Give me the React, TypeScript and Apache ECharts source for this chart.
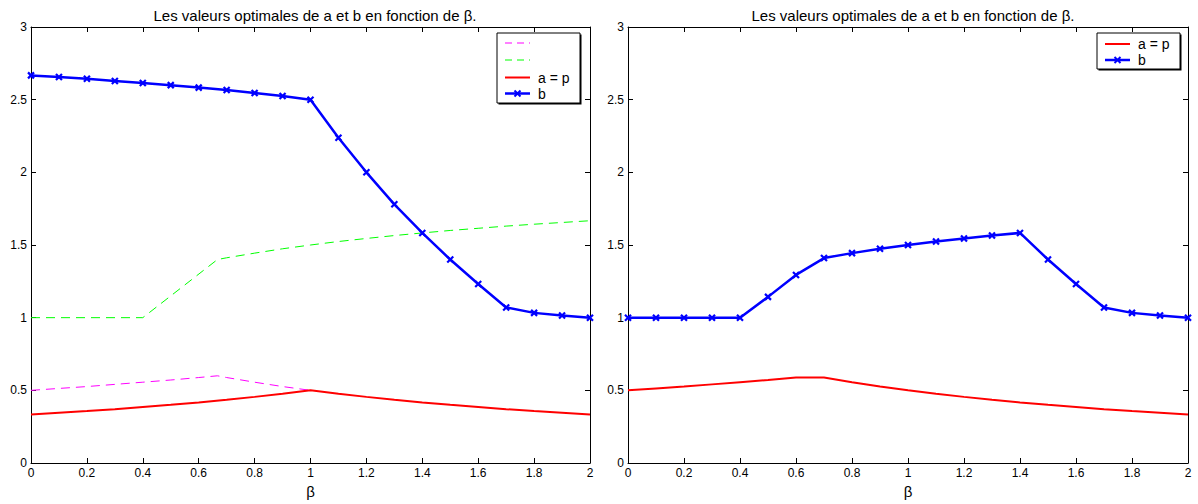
import React, { useEffect, useRef } from "react";
import * as echarts from "echarts";

const betas = [0, 0.1, 0.2, 0.3, 0.4, 0.5, 0.6, 0.7, 0.8, 0.9, 1, 1.1, 1.2, 1.3, 1.4, 1.5, 1.6, 1.7, 1.8, 1.9, 2];

// Left plot
const leftA = [0.333, 0.345, 0.357, 0.37, 0.385, 0.4, 0.417, 0.435, 0.455, 0.476, 0.5, 0.476, 0.455, 0.435, 0.417, 0.4, 0.385, 0.37, 0.357, 0.345, 0.333];
const leftB = [2.667, 2.656, 2.644, 2.629, 2.615, 2.6, 2.583, 2.566, 2.546, 2.525, 2.5, 2.238, 2.0, 1.78, 1.583, 1.4, 1.232, 1.07, 1.033, 1.015, 1.0];
const magentaX = [0, 0.1, 0.2, 0.3, 0.4, 0.5, 0.6, 0.667, 0.7, 0.8, 0.9, 1];
const magentaY = [0.5, 0.513, 0.526, 0.541, 0.556, 0.571, 0.588, 0.6, 0.588, 0.556, 0.526, 0.5];
const greenX = [0, 0.4, 0.667, 0.7, 0.8, 0.9, 1, 1.1, 1.2, 1.3, 1.4, 1.5, 1.6, 1.7, 1.8, 1.9, 2];
const greenY = [1, 1, 1.4, 1.412, 1.444, 1.474, 1.5, 1.524, 1.545, 1.565, 1.583, 1.6, 1.615, 1.63, 1.643, 1.655, 1.667];

// Right plot
const rightA = [0.5, 0.513, 0.526, 0.541, 0.556, 0.571, 0.588, 0.588, 0.556, 0.526, 0.5, 0.476, 0.455, 0.435, 0.417, 0.4, 0.385, 0.37, 0.357, 0.345, 0.333];
const rightB = [1, 1, 1, 1, 1, 1.143, 1.294, 1.41, 1.444, 1.474, 1.5, 1.524, 1.545, 1.565, 1.583, 1.4, 1.232, 1.07, 1.033, 1.015, 1.0];

const titleText = "Les valeurs optimales de a et b en fonction de β.";
const leftLegendLabels = ["", "", "a = p", "b"];
const rightLegendLabels = ["a = p", "b"];
const FONT = "Liberation Sans, Arial, Helvetica, sans-serif";

const MAGENTA = "#ff00ff";
const GREEN = "#00ff00";
const RED = "#ff0000";
const BLUE = "#0000ff";

const pairs = (xs: number[], ys: number[]) => xs.map((x, i) => [x, ys[i]]);

const crossSymbol = "path://M0,0L10,10M10,0L0,10";

type LegendStyle = { color: string; width: number; dash?: number[]; marker?: boolean };

function legendGraphic(left: number, top: number, w: number, h: number, rowYs: number[], labels: string[], styles: LegendStyle[]) {
  const els: any[] = [];
  els.push({ type: "rect", shape: { x: left + 1.5, y: top + 1.5, width: w, height: h }, style: { fill: "#000" }, z: 100 });
  els.push({ type: "rect", shape: { x: left, y: top, width: w, height: h }, style: { fill: "#fff", stroke: "#000", lineWidth: 1 }, z: 101 });
  rowYs.forEach((ry, i) => {
    const s = styles[i];
    const y = top + ry;
    els.push({
      type: "line",
      shape: { x1: left + 8, y1: y, x2: left + 33, y2: y },
      style: { stroke: s.color, lineWidth: s.width, lineDash: s.dash || null },
      z: 102,
    });
    if (s.marker) {
      const cx = left + 20.5;
      els.push({ type: "line", shape: { x1: cx - 3, y1: y - 3, x2: cx + 3, y2: y + 3 }, style: { stroke: s.color, lineWidth: 2 }, z: 103 });
      els.push({ type: "line", shape: { x1: cx + 3, y1: y - 3, x2: cx - 3, y2: y + 3 }, style: { stroke: s.color, lineWidth: 2 }, z: 103 });
    }
    if (labels[i]) {
      els.push({
        type: "text",
        x: left + 41,
        y,
        style: { text: labels[i], fill: "#000", fontSize: 14, fontFamily: FONT, verticalAlign: "middle", align: "left" },
        z: 103,
      });
    }
  });
  return els;
}

export default function App() {
  const ref = useRef<HTMLDivElement>(null);
  useEffect(() => {
    if (!ref.current) return;
    const chart = echarts.init(ref.current, undefined, { renderer: "svg" });
    const grids = [
      { left: 31, right: 608, top: 27, bottom: 40 },
      { left: 628, right: 10, top: 27, bottom: 40 },
    ];
    const mkX = (gi: number, top: boolean) => ({
      type: "value",
      gridIndex: gi,
      position: top ? "top" : "bottom",
      min: 0,
      max: 2,
      interval: 0.2,
      name: top ? "" : "β",
      nameLocation: "middle",
      nameGap: 21,
      nameTextStyle: { color: "#000", fontSize: 15, fontFamily: FONT },
      axisLine: { show: true, onZero: false, lineStyle: { color: "#000", width: 1 } },
      axisTick: { show: true, inside: true, length: 5, lineStyle: { color: "#000" } },
      axisLabel: { show: !top, color: "#000", fontSize: 12, fontFamily: FONT, margin: 4 },
      splitLine: { show: false },
    });
    const mkY = (gi: number, right: boolean) => ({
      type: "value",
      gridIndex: gi,
      position: right ? "right" : "left",
      min: 0,
      max: 3,
      interval: 0.5,
      axisLine: { show: true, onZero: false, lineStyle: { color: "#000", width: 1 } },
      axisTick: { show: true, inside: true, length: 5, lineStyle: { color: "#000" } },
      axisLabel: { show: !right, color: "#000", fontSize: 12, fontFamily: FONT, margin: 4 },
      splitLine: { show: false },
    });
    const blueB = (name: string, data: number[][], xi: number, yi: number) => ({
      name,
      type: "line",
      xAxisIndex: xi,
      yAxisIndex: yi,
      data,
      symbol: crossSymbol,
      symbolSize: 6,
      showSymbol: true,
      lineStyle: { color: BLUE, width: 2.5 },
      itemStyle: { color: BLUE, borderColor: BLUE, borderWidth: 2.2 },
      z: 4,
    });
    const redA = (name: string, data: number[][], xi: number, yi: number) => ({
      name,
      type: "line",
      xAxisIndex: xi,
      yAxisIndex: yi,
      data,
      symbol: "none",
      lineStyle: { color: RED, width: 2 },
      itemStyle: { color: RED },
      z: 3,
    });
    const titleStyle = { color: "#000", fontSize: 15, fontWeight: "normal", fontFamily: FONT };
    chart.setOption({
      animation: false,
      backgroundColor: "#fff",
      title: [
        { text: titleText, left: 310, top: 3, textAlign: "center", textStyle: titleStyle },
        { text: titleText, left: 908, top: 3, textAlign: "center", textStyle: titleStyle },
      ],
      grid: grids,
      xAxis: [mkX(0, false), mkX(0, true), mkX(1, false), mkX(1, true)],
      yAxis: [mkY(0, false), mkY(0, true), mkY(1, false), mkY(1, true)],
      series: [
        {
          name: "magenta",
          type: "line",
          xAxisIndex: 0,
          yAxisIndex: 0,
          data: pairs(magentaX, magentaY),
          symbol: "none",
          lineStyle: { color: MAGENTA, width: 1, type: [9, 6] },
          itemStyle: { color: MAGENTA },
          z: 2,
        },
        {
          name: "green",
          type: "line",
          xAxisIndex: 0,
          yAxisIndex: 0,
          data: pairs(greenX, greenY),
          symbol: "none",
          lineStyle: { color: GREEN, width: 1, type: [9, 6] },
          itemStyle: { color: GREEN },
          z: 2,
        },
        redA("a = p", pairs(betas, leftA), 0, 0),
        blueB("b", pairs(betas, leftB), 0, 0),
        redA("a = p", pairs(betas, rightA), 2, 2),
        blueB("b", pairs(betas, rightB), 2, 2),
      ],
      graphic: [
        ...legendGraphic(497, 33, 83, 70, [10, 27, 44.5, 60.5], leftLegendLabels, [
          { color: MAGENTA, width: 1, dash: [7, 5] },
          { color: GREEN, width: 1, dash: [7, 5] },
          { color: RED, width: 2 },
          { color: BLUE, width: 2.5, marker: true },
        ]),
        ...legendGraphic(1097, 33, 83, 36, [11, 27], rightLegendLabels, [
          { color: RED, width: 2 },
          { color: BLUE, width: 2.5, marker: true },
        ]),
      ],
    });
    return () => chart.dispose();
  }, []);
  return <div ref={ref} style={{ position: "fixed", left: 0, top: 0, width: 1198, height: 504 }} />;
}
